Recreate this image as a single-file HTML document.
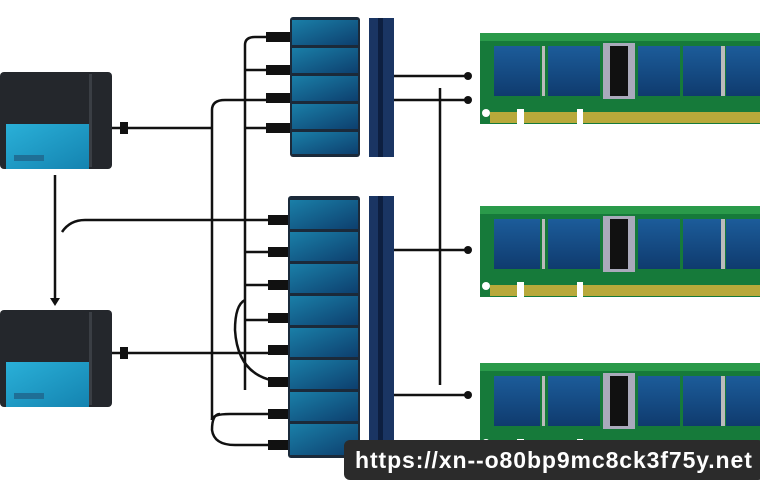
<!DOCTYPE html>
<html><head><meta charset="utf-8"><style>
html,body{margin:0;padding:0;background:#fff;width:760px;height:480px;overflow:hidden}
.wm{position:absolute;left:344px;top:440px;width:420px;height:40px;background:#2b2b2b;border-radius:6px;color:#fff;font:bold 23px "Liberation Sans",sans-serif;line-height:40px;padding-left:11px;box-sizing:border-box;letter-spacing:0.9px}
</style></head><body>
<svg width="760" height="480" style="position:absolute;left:0;top:0">
<defs>
<linearGradient id="pan" x1="0" y1="0" x2="1" y2="1"><stop offset="0" stop-color="#1a7fa8"/><stop offset="1" stop-color="#0d3f6e"/></linearGradient>
<linearGradient id="cy" x1="0" y1="0" x2="1" y2="1"><stop offset="0" stop-color="#2ab0d8"/><stop offset="1" stop-color="#1483b0"/></linearGradient>
<linearGradient id="chip" x1="0" y1="0" x2="0" y2="1"><stop offset="0" stop-color="#1c5c9a"/><stop offset="1" stop-color="#0f3b6e"/></linearGradient>
<g id="ram">
<rect x="0" y="0" width="280" height="91" fill="#167a3a"/>
<rect x="0" y="0" width="280" height="8" fill="#2a9a4a"/>
<rect x="14" y="13" width="46" height="50" fill="url(#chip)"/>
<rect x="68" y="13" width="52" height="50" fill="url(#chip)"/>
<rect x="123" y="10" width="32" height="56" fill="#aab"/>
<rect x="130" y="13" width="18" height="50" fill="#111"/>
<rect x="158" y="13" width="42" height="50" fill="url(#chip)"/>
<rect x="203" y="13" width="38" height="50" fill="url(#chip)"/>
<rect x="246" y="13" width="34" height="50" fill="url(#chip)"/>
<rect x="62" y="13" width="3" height="50" fill="#bbb"/>
<rect x="241" y="13" width="4" height="50" fill="#bbb"/>
<rect x="10" y="79" width="270" height="11" fill="#b8a93a"/>
<rect x="37" y="76" width="7" height="15" fill="#fff"/>
<rect x="97" y="76" width="6" height="15" fill="#fff"/>
<circle cx="6" cy="80" r="4" fill="#fff"/>
</g>
<g id="box">
<rect x="0" y="0" width="112" height="97" rx="4" fill="#24272c"/>
<rect x="89" y="2" width="3" height="93" fill="#3a3e44"/>
<rect x="6" y="52" width="83" height="45" fill="url(#cy)"/>
<rect x="14" y="83" width="30" height="6" fill="#1f6f96"/>
</g>
</defs>
<use href="#box" x="0" y="72"/>
<use href="#box" x="0" y="310"/>
<g stroke="#111" stroke-width="2.5" fill="none">
<path d="M112 128H212"/><path d="M112 353H290"/>
<path d="M55 175V300"/>
<path d="M62 232Q70 220 85 220H285"/>
<path d="M212 420V110Q212 100 225 100H285"/>
<path d="M245 390V45Q245 37 255 37H285"/>
<path d="M245 70H285M245 128H285M245 252H285M245 285H285"/>
<path d="M212 420Q212 414 230 414H285"/>
<path d="M220 414Q212 414 212 430Q214 445 235 445H285"/>
<path d="M245 300Q235 305 235 330Q238 380 285 382"/>
<path d="M245 320H285"/>
<path d="M394 76H466M394 100H466M394 250H466M394 395H466"/>
<path d="M440 88V385"/>
</g>
<g fill="#111"><circle cx="468" cy="76" r="4"/><circle cx="468" cy="100" r="4"/><circle cx="468" cy="250" r="4"/><circle cx="468" cy="395" r="4"/>
<path d="M50 298h10l-5 8z"/><rect x="120" y="122" width="8" height="12"/><rect x="120" y="347" width="8" height="12"/>
<rect x="266" y="32" width="24" height="10"/><rect x="266" y="65" width="24" height="10"/><rect x="266" y="93" width="24" height="10"/><rect x="266" y="123" width="24" height="10"/>
<rect x="268" y="215" width="22" height="10"/><rect x="268" y="247" width="22" height="10"/><rect x="268" y="280" width="22" height="10"/><rect x="268" y="313" width="22" height="10"/><rect x="268" y="345" width="22" height="10"/><rect x="268" y="377" width="22" height="10"/><rect x="268" y="409" width="22" height="10"/><rect x="268" y="440" width="22" height="10"/></g>
<rect x="290" y="17" width="70" height="140" rx="3" fill="#1b2a3a"/>
<g fill="url(#pan)"><rect x="292" y="20" width="66" height="25"/><rect x="292" y="48" width="66" height="25"/><rect x="292" y="76" width="66" height="25"/><rect x="292" y="104" width="66" height="25"/><rect x="292" y="132" width="66" height="22"/></g>
<rect x="288" y="196" width="72" height="262" rx="3" fill="#1b2a3a"/>
<g fill="url(#pan)"><rect x="290" y="200" width="68" height="29"/><rect x="290" y="232" width="68" height="29"/><rect x="290" y="264" width="68" height="29"/><rect x="290" y="296" width="68" height="29"/><rect x="290" y="328" width="68" height="29"/><rect x="290" y="360" width="68" height="29"/><rect x="290" y="392" width="68" height="29"/><rect x="290" y="424" width="68" height="31"/></g>
<rect x="369" y="18" width="25" height="139" fill="#1a3563"/><rect x="378" y="18" width="5" height="139" fill="#0d1f40"/>
<rect x="369" y="196" width="25" height="262" fill="#1a3563"/><rect x="378" y="196" width="5" height="262" fill="#0d1f40"/>
<use href="#ram" x="480" y="33"/>
<use href="#ram" x="480" y="206"/>
<use href="#ram" x="480" y="363"/>
</svg>
<div class="wm">https://xn--o80bp9mc8ck3f75y.net</div>
</body></html>
